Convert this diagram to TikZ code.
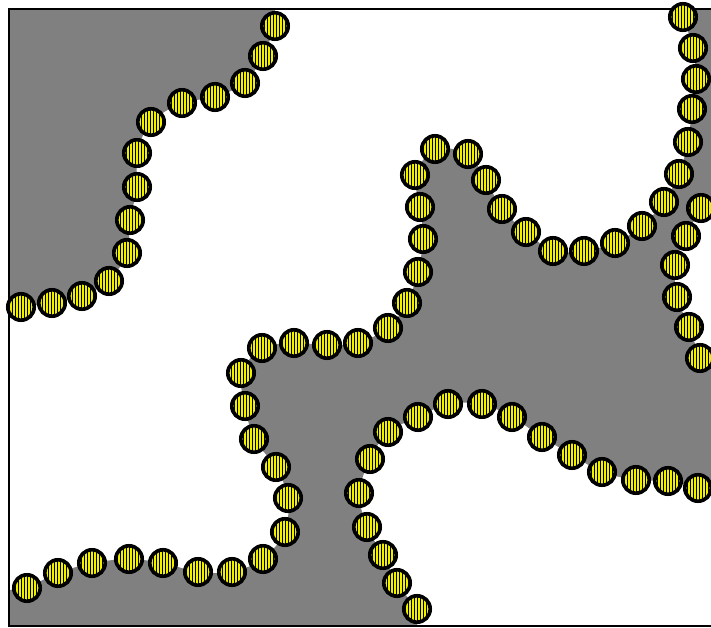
\documentclass[tikz,border=0pt]{standalone}
\usepackage{tikz}
\usetikzlibrary{patterns.meta}
\definecolor{filmgray}{HTML}{808080}
\definecolor{beadfill}{RGB}{240,240,0}
\tikzset{
  bead/.style={circle,draw=black,line width=5.2pt,minimum size=13.2mm,inner sep=0pt,
    preaction={fill=beadfill},pattern={Lines[angle=90,distance=4.27pt,line width=1.3pt]},pattern color=black},
  film/.style={fill=filmgray},
  box/.style={draw=black,line width=3pt},
}
\begin{document}
\begin{tikzpicture}[x=0.5mm,y=-0.5mm]
  \useasboundingbox (0,0) rectangle (711,628);
  \clip (0,0) rectangle (711,628);
  % gray films
  \fill[film] (9,9) -- (275,9) -- plot[smooth,tension=0.5] coordinates {(275,26) (263,56) (245,83) (215,97) (182,103) (151,122) (137,153) (137,187) (130,220) (127,253) (109,281) (82,296) (52,303) (21,307)} -- (9,307) -- cycle;
  \fill[film] (683,9) -- plot[smooth,tension=0.5] coordinates {(683,17) (693,48) (696,79) (692,109) (688,142) (679,174) (664,202) (642,226) (615,243) (584,251) (553,251) (526,232) (502,209) (486,180) (468,154) (435,149) (415,175) (420,207) (423,239) (418,272) (407,303) (388,328) (358,343) (327,345) (294,343) (262,348) (241,373) (245,406) (254,439) (276,467) (288,498) (285,532) (263,559) (232,572) (198,572) (163,563) (129,559) (92,563) (58,573) (27,588)}
    -- (9,590) -- (9,626) -- (417,626)
    -- plot[smooth,tension=0.5] coordinates {(417,609) (397,583) (383,555) (367,527) (359,493) (370,459) (388,432) (418,417) (448,404) (482,404) (512,417) (542,437) (572,455) (602,472) (636,480) (668,481) (698,488)}
    -- (716,488) -- (716,358)
    -- plot[smooth,tension=0.5] coordinates {(700,358) (689,327) (677,297) (675,265) (686,236) (701,208)}
    -- (716,205) -- (716,9) -- cycle;
  % frame
  \draw[box] (9,9) rectangle (716,626);
  % beads
  \foreach \x/\y [count=\i] in {275/26,263/56,245/83,215/97,182/103,151/122,137/153,137/187,130/220,127/253,109/281,82/296,52/303,21/307}
    \node[bead] (a\i) at (\x,\y) {};
  \foreach \x/\y [count=\i] in {683/17,693/48,696/79,692/109,688/142,679/174,664/202,642/226,615/243,584/251,553/251,526/232,502/209,486/180,468/154,435/149,415/175,420/207,423/239,418/272,407/303,388/328,358/343,327/345,294/343,262/348,241/373,245/406,254/439,276/467,288/498,285/532,263/559,232/572,198/572,163/563,129/559,92/563,58/573,27/588}
    \node[bead] (b\i) at (\x,\y) {};
  \foreach \x/\y [count=\i] in {701/208,686/236,675/265,677/297,689/327,700/358}
    \node[bead] (c\i) at (\x,\y) {};
  \foreach \x/\y [count=\i] in {698/488,668/481,636/480,602/472,572/455,542/437,512/417,482/404,448/404,418/417,388/432,370/459,359/493,367/527,383/555,397/583,417/609}
    \node[bead] (d\i) at (\x,\y) {};
\end{tikzpicture}
\end{document}
